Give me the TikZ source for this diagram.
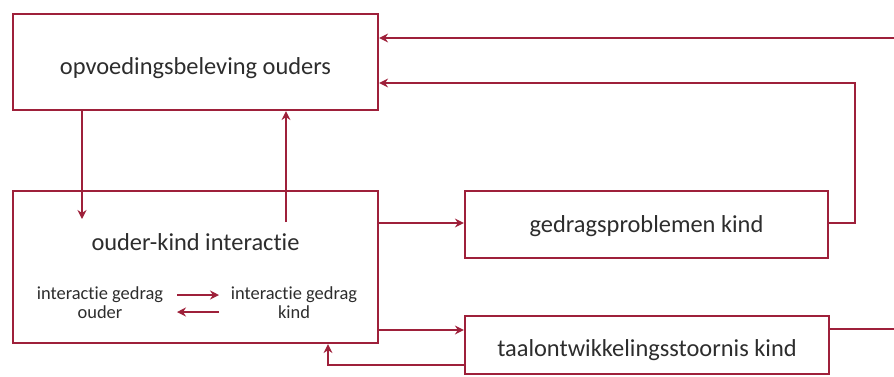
\documentclass[tikz,border=0pt]{standalone}
\usepackage{fontspec}
\setmainfont{Carlito}[Ligatures=NoCommon]
\usetikzlibrary{arrows.meta}
\definecolor{wine}{RGB}{158,32,58}
\definecolor{ink}{RGB}{45,45,45}
\begin{document}
\begin{tikzpicture}[x=1bp,y=-1bp,
  box/.style={draw=wine,line width=2.2bp,fill=white,inner sep=0pt},
  link/.style={draw=wine,line width=2.2bp,-{Stealth[length=9bp,width=9bp,inset=3bp]}},
  line/.style={draw=wine,line width=2.2bp},
  lbl/.style={text=ink,font=\fontsize{24.5}{28}\selectfont},
  small/.style={text=ink,font=\fontsize{18.5}{19}\selectfont,align=center}]
\useasboundingbox (0,0) rectangle (894,376);
% boxes
\node[box,minimum width=365bp,minimum height=96bp] (ouders) at (195.5,62) {};
\node[box,minimum width=365bp,minimum height=152bp] (inter) at (195.5,267) {};
\node[box,minimum width=363bp,minimum height=67bp] (gedrag) at (646.5,224.5) {};
\node[box,minimum width=364bp,minimum height=58bp] (taal) at (647,345) {};
% labels
\node[lbl] (t1) at (195.5,68) {opvoedingsbeleving ouders};
\node[lbl] (t2) at (195.5,242) {ouder-kind interactie};
\node[lbl] (t3) at (646.5,226) {gedragsproblemen kind};
\node[lbl] (t4) at (647,350) {taalontwikkelingsstoornis kind};
\node[small] (io) at (100,303) {interactie gedrag\\ouder};
\node[small] (ik) at (294,303) {interactie gedrag\\kind};
% inner arrows
\coordinate (a1) at (177,295); \coordinate (a2) at (219,295);
\coordinate (b1) at (219,312); \coordinate (b2) at (177,312);
\draw[link] (a1) -- (a2);
\draw[link] (b1) -- (b2);
% vertical links between the two left boxes
\coordinate (d1) at (82,219);
\coordinate (u1) at (286,222);
\draw[link] (ouders.south -| d1) -- (d1);
\draw[link] (u1) -- (ouders.south -| u1);
% interaction to the two right boxes
\coordinate (r1) at (378,223);
\coordinate (r2) at (378,330);
\draw[link] (r1) -- (gedrag.west |- r1);
\draw[link] (r2) -- (taal.west |- r2);
% language back to interaction
\coordinate (q1) at (465,365);
\coordinate (q2) at (328,365);
\draw[link] (q1) -- (q2) -- (inter.south -| q2);
% behaviour back to parenting
\coordinate (g1) at (855,223);
\coordinate (g2) at (855,83);
\draw[link] (gedrag.east |- g1) -- (g1) -- (g2) -- (ouders.east |- g2);
% language back to parenting (leaves the frame on the right)
\coordinate (e1) at (894,329);
\coordinate (e2) at (894,38);
\draw[line] (taal.east |- e1) -- (e1);
\draw[link] (e2) -- (ouders.east |- e2);
\end{tikzpicture}
\end{document}
